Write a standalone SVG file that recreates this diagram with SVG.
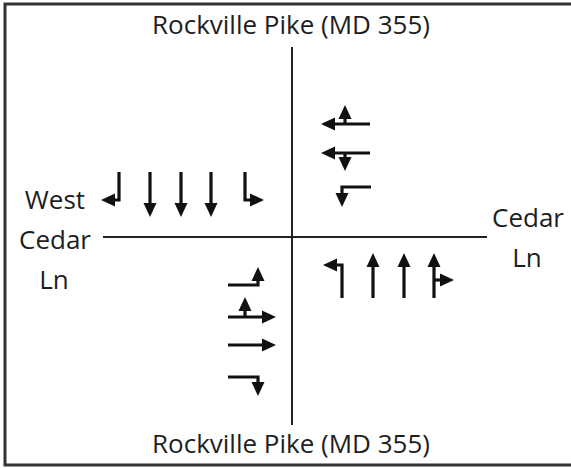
<svg xmlns="http://www.w3.org/2000/svg" width="571" height="468" viewBox="0 0 571 468">
<style>
.t{font-family:"Open Sans","Noto Sans",sans-serif;font-size:26px;fill:#1e1e1e;text-anchor:middle}
.road{stroke:#222;stroke-width:2;fill:none}
.ar{stroke:#111;stroke-width:3.2;fill:none;marker-end:url(#ah)}
</style>
<defs>
<marker id="ah" markerUnits="userSpaceOnUse" markerWidth="15" markerHeight="15" viewBox="0 0 15 15" refX="4" refY="7.5" orient="auto">
<path d="M0,1 L14,7.5 L0,14 z" fill="#111"/>
</marker>
</defs>
<rect x="5" y="4" width="590" height="461" fill="#fff" stroke="#333" stroke-width="3"/>
<g id="labels">
<text class="t" x="291" y="34">Rockville Pike (MD 355)</text>
<text class="t" x="291" y="453">Rockville Pike (MD 355)</text>
<text class="t" x="55" y="209">West</text>
<text class="t" x="55" y="249">Cedar</text>
<text class="t" x="54" y="289">Ln</text>
<text class="t" x="528" y="227">Cedar</text>
<text class="t" x="527" y="267">Ln</text>
</g>
<g id="roads">
<line class="road" x1="292" y1="47" x2="292" y2="425"/>
<line class="road" x1="103" y1="237" x2="487" y2="237"/>
</g>
<g id="westbound">
<path class="ar" d="M370,124 H331"/>
<path class="ar" d="M345,124 V115"/>
<path class="ar" d="M370,153 H331"/>
<path class="ar" d="M345,153 V161"/>
<path class="ar" d="M371,187 H342 V197"/>
</g>
<g id="southbound">
<path class="ar" d="M119,172 V200 H111"/>
<path class="ar" d="M150,172 V207"/>
<path class="ar" d="M181,172 V207"/>
<path class="ar" d="M211,172 V207"/>
<path class="ar" d="M245,172 V200 H254"/>
</g>
<g id="eastbound">
<path class="ar" d="M228,285 H258 V277"/>
<path class="ar" d="M228,317 H266"/>
<path class="ar" d="M245,317 V307"/>
<path class="ar" d="M228,345 H266"/>
<path class="ar" d="M228,377 H258 V386"/>
</g>
<g id="northbound">
<path class="ar" d="M342,298 V265 H333"/>
<path class="ar" d="M373,298 V263"/>
<path class="ar" d="M404,298 V263"/>
<path class="ar" d="M434,298 V263"/>
<path class="ar" d="M434,280 H444"/>
</g>
</svg>
